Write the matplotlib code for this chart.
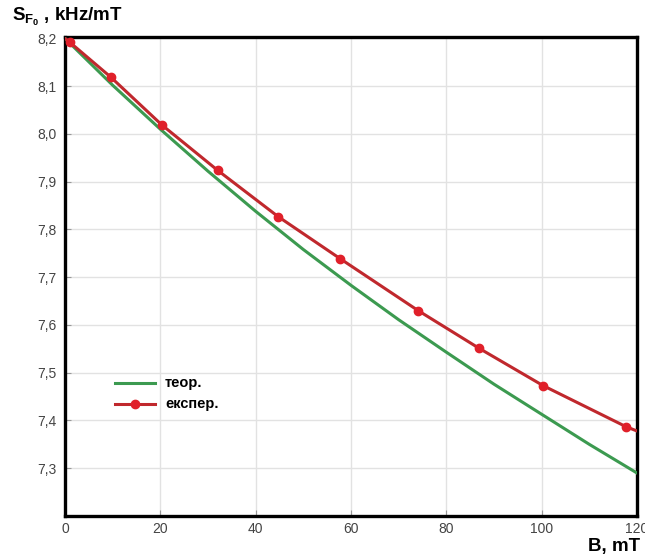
import matplotlib
matplotlib.use("Agg")
import matplotlib.pyplot as plt
from matplotlib.ticker import FuncFormatter

plt.rcParams['font.family'] = ['Liberation Sans', 'DejaVu Sans']
plt.rcParams['mathtext.fontset'] = 'custom'
plt.rcParams['mathtext.bf'] = 'Liberation Sans:bold'
plt.rcParams['mathtext.rm'] = 'Liberation Sans'

# theoretical curve
teor_B = [0, 10, 20, 30, 40, 50, 60, 70, 80, 90, 100, 110, 120]
teor_S = [8.2, 8.102, 8.01, 7.922, 7.838, 7.758, 7.683, 7.611, 7.543, 7.476, 7.413, 7.35, 7.29]

# experimental points
exp_B = [1.0, 9.6, 20.3, 32.0, 44.7, 57.7, 74.1, 86.9, 100.3, 117.7]
exp_S = [8.192, 8.119, 8.019, 7.924, 7.827, 7.739, 7.630, 7.551, 7.473, 7.387]
# ends of the experimental line
exp_line_B = [0] + exp_B + [120]
exp_line_S = [8.2] + exp_S + [7.378]

fig = plt.figure(figsize=(6.45, 5.56), dpi=100)
ax = fig.add_axes([65/645, 1-516/556, (637-65)/645, (516-37)/556])

ax.plot(teor_B, teor_S, color='#3c9a50', lw=2.2, zorder=3)
ax.plot(exp_line_B, exp_line_S, color='#c0282d', lw=2.2, zorder=4)
ax.plot(exp_B, exp_S, 'o', color='#e0202a', ms=6, zorder=5)

ax.set_xlim(0, 120)
ax.set_ylim(7.2, 8.203)
ax.set_xticks([0, 20, 40, 60, 80, 100, 120])
ax.set_yticks([7.3, 7.4, 7.5, 7.6, 7.7, 7.8, 7.9, 8.0, 8.1, 8.2])
ax.yaxis.set_major_formatter(FuncFormatter(lambda v, p: f"{v:.1f}".replace('.', ',')))
ax.xaxis.set_major_formatter(FuncFormatter(lambda v, p: f"{v:.0f}"))
ax.grid(True, color='#e2e2e2', lw=1)
ax.tick_params(direction='in', length=4, color='#999999', labelcolor='#444444',
               labelsize=10)
ax.tick_params(axis='x', pad=4)
ax.tick_params(axis='y', pad=6)
for s in ax.spines.values():
    s.set_linewidth(2.4)
    s.set_color('black')

# legend drawn by hand
ax.plot([0.087, 0.157], [0.278, 0.278], transform=ax.transAxes, color='#3c9a50', lw=2.2)
ax.plot([0.087, 0.157], [0.234, 0.234], transform=ax.transAxes, color='#c0282d', lw=2.2)
ax.plot([0.122], [0.234], 'o', transform=ax.transAxes, color='#e0202a', ms=6)
ax.text(0.175, 0.278, 'теор.', transform=ax.transAxes, va='center', fontsize=10.5, fontweight='bold')
ax.text(0.175, 0.234, 'експер.', transform=ax.transAxes, va='center', fontsize=10.5, fontweight='bold')

fig.text(12/645, 1-17/556, r'$\mathbf{S_{F_0}}$ , kHz/mT', fontsize=13.5, fontweight='bold', va='center')
fig.text(640/645, 1-547/556, 'B, mT', fontsize=13.5, fontweight='bold', va='center', ha='right')

fig.savefig('out.png', dpi=100)
